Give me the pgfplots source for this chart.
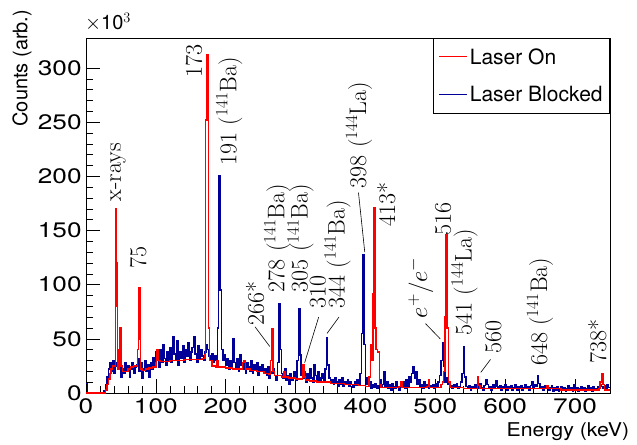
\documentclass[border=0pt]{standalone}
\usepackage{fontspec}
\setsansfont{TeX Gyre Heros}
\usepackage{pgfplots}
\pgfplotsset{compat=1.18}

\definecolor{laseron}{rgb}{1,0,0}
\definecolor{laserblocked}{rgb}{0,0,0.6}

\tikzset{ann/.style={rotate=90, anchor=west, inner sep=1bp,
  font=\fontsize{24bp}{24bp}\selectfont}}

\begin{document}
\begin{tikzpicture}
\begin{axis}[
  scale only axis,
  width=524bp, height=355bp,
  xmin=0, xmax=750, ymin=0, ymax=327.7,
  xtick={0,100,...,700}, ytick={0,50,...,300},
  minor x tick num=4, minor y tick num=4,
  tick align=inside, tick pos=left,
  major tick length=14bp, minor tick length=7bp,
  tick style={black, line width=0.6bp},
  axis line style={black, line width=0.8bp},
  /pgf/number format/assume math mode=true,
  tick label style={font=\fontsize{21bp}{21bp}\sffamily, xscale=1.25},
  xticklabel style={yshift=-2bp},
  yticklabel style={xshift=0bp},
  reverse legend,
  legend style={at={(1,1)}, anchor=north east, draw=black, line width=0.8bp,
    font=\fontsize{21bp}{21bp}\sffamily, cells={anchor=west},
    row sep=17bp, inner xsep=5bp, inner ysep=8bp},
  legend image code/.code={\draw[#1, line width=1bp] (0bp,0bp) -- (28bp,0bp);},
  clip mode=individual,
]
% Laser Blocked
\addplot[const plot, laserblocked, line width=1.5bp] coordinates {
(0,9)(2,0)(24,0)(26,2)(28,8)(30,15)(32,22)(34,28)(36,20)(38,30)
(40,18)(42,25)(44,28)(46,37)(48,30)(50,15)(52,22)(54,18)(56,28)(58,20)
(60,25)(62,15)(64,22)(66,28)(68,18)(70,24)(72,26)(74,32)(76,20)(78,28)
(80,14)(82,22)(84,30)(86,20)(88,26)(90,15)(92,28)(94,22)(96,33)(98,26)
(100,38)(102,30)(104,24)(106,40)(108,28)(110,45)(112,32)(114,26)(116,38)(118,30)
(120,42)(122,28)(124,52)(126,36)(128,30)(130,48)(132,26)(134,38)(136,32)(138,44)
(140,28)(142,40)(144,34)(146,46)(148,30)(150,38)(152,42)(154,52)(156,36)(158,28)
(160,44)(162,32)(164,40)(166,34)(168,30)(170,38)(172,45)(174,40)(176,34)(178,30)
(180,36)(182,28)(184,34)(186,30)(188,60)(190,201)(192,95)(194,40)(196,30)(198,35)
(200,26)(202,32)(204,22)(206,30)(208,25)(210,50)(212,28)(214,24)(216,32)(218,20)
(220,35)(222,26)(224,22)(226,30)(228,18)(230,28)(232,24)(234,20)(236,30)(238,18)
(240,26)(242,22)(244,28)(246,16)(248,24)(250,20)(252,26)(254,18)(256,22)(258,16)
(260,24)(262,14)(264,20)(266,18)(268,22)(270,16)(272,12)(274,28)(276,82)(278,40)
(280,18)(282,14)(284,22)(286,12)(288,16)(290,8)(292,18)(294,12)(296,14)(298,20)
(300,12)(302,30)(304,78)(306,35)(308,16)(310,14)(312,20)(314,10)(316,18)(318,12)
(320,22)(322,14)(324,10)(326,26)(328,16)(330,12)(332,20)(334,10)(336,14)(338,18)
(340,12)(342,22)(344,51)(346,26)(348,14)(350,10)(352,12)(354,8)(356,14)(358,10)
(360,6)(362,12)(364,8)(366,14)(368,6)(370,10)(372,8)(374,12)(376,6)(378,10)
(380,8)(382,5)(384,10)(386,7)(388,12)(390,8)(392,18)(394,55)(396,128)(398,45)
(400,14)(402,8)(404,6)(406,10)(408,4)(410,8)(412,5)(414,9)(416,4)(418,7)
(420,12)(422,5)(424,8)(426,20)(428,6)(430,10)(432,4)(434,8)(436,3)(438,9)
(440,6)(442,4)(444,10)(446,6)(448,3)(450,8)(452,5)(454,10)(456,4)(458,12)
(460,6)(462,15)(464,10)(466,18)(468,24)(470,14)(472,20)(474,8)(476,12)(478,5)
(480,8)(482,4)(484,10)(486,6)(488,8)(490,4)(492,7)(494,5)(496,8)(498,4)
(500,9)(502,6)(504,10)(506,16)(508,30)(510,46)(512,25)(514,10)(516,14)(518,8)
(520,5)(522,7)(524,4)(526,8)(528,5)(530,9)(532,4)(534,6)(536,10)(538,18)
(540,43)(542,15)(544,6)(546,4)(548,7)(550,3)(552,6)(554,4)(556,8)(558,5)
(560,7)(562,4)(564,9)(566,5)(568,3)(570,7)(572,12)(574,8)(576,4)(578,6)
(580,3)(582,8)(584,5)(586,11)(588,6)(590,4)(592,7)(594,3)(596,6)(598,4)
(600,8)(602,3)(604,6)(606,4)(608,7)(610,3)(612,5)(614,8)(616,3)(618,6)
(620,4)(622,7)(624,3)(626,5)(628,8)(630,4)(632,6)(634,3)(636,7)(638,10)
(640,5)(642,8)(644,6)(646,16)(648,9)(650,4)(652,6)(654,3)(656,7)(658,4)
(660,6)(662,3)(664,5)(666,7)(668,2)(670,5)(672,3)(674,6)(676,2)(678,4)
(680,6)(682,3)(684,5)(686,2)(688,4)(690,7)(692,3)(694,5)(696,2)(698,8)
(700,3)(702,5)(704,2)(706,4)(708,6)(710,3)(712,5)(714,2)(716,4)(718,7)
(720,3)(722,5)(724,2)(726,6)(728,3)(730,4)(732,6)(734,5)(736,8)(738,6)
(740,4)(742,7)(744,3)(746,8)(748,5)(750,5)
};
\addlegendentry{Laser Blocked}
% Laser On
\addplot[const plot, laseron, line width=1.5bp] coordinates {
(0,0)(26,0)(28,3)(30,8)(32,13)(34,18)(36,22)(38,25)(42,80)(43,170)
(44,120)(45,40)(46,22)(48,60)(50,25)(52,20)(56,20)(60,22)(64,24)(68,25)
(72,25)(74,40)(75,97)(77,50)(78,22)(80,21)(85,22)(90,23)(95,24)(100,28)
(101,40)(103,30)(106,29)(110,29)(120,30)(130,30)(140,31)(150,31)(160,31)(166,32)
(170,35)(171,252)(173,312)(175,60)(177,30)(180,25)(185,24)(187,30)(189,24)(195,24)
(200,23)(210,22)(220,22)(224,28)(226,30)(228,22)(235,21)(245,20)(255,18)(262,17)
(264,30)(266,59)(268,20)(270,16)(280,15)(283,20)(285,15)(290,14)(300,13)(308,13)
(310,26)(312,15)(314,12)(320,11)(330,10)(340,10)(350,9)(360,9)(370,8)(380,8)
(390,7)(400,6)(404,6)(405,15)(407,45)(409,30)(411,92)(412,171)(414,60)(415,40)
(417,38)(420,8)(422,5)(430,5)(440,5)(448,6)(450,10)(452,5)(460,5)(470,5)
(480,5)(488,6)(490,12)(492,5)(500,5)(506,5)(508,8)(510,10)(512,20)(514,70)
(515,146)(517,60)(519,10)(521,5)(530,5)(540,4)(550,4)(558,4)(560,15)(562,7)
(564,4)(580,4)(600,4)(620,4)(640,4)(658,4)(660,7)(662,4)(680,3)(700,3)
(720,3)(734,4)(736,10)(738,18)(740,8)(742,3)(750,3)
};
\addlegendentry{Laser On}

% peak labels
\node[ann] at (axis cs:45.8,176) {x-rays};
\node[ann] at (axis cs:74.6,114) {75};
\node[ann] at (axis cs:154.6,290) {173};
\node[ann] at (axis cs:205,209) {191 ($^{141}$Ba)};
\node[ann] at (axis cs:242,61) {266*};
\node[ann] at (axis cs:274,92) {278 ($^{141}$Ba)};
\node[ann] at (axis cs:307,92) {305 ($^{141}$Ba)};
\node[ann] at (axis cs:332,77) {310};
\node[ann] at (axis cs:360,77) {344 ($^{141}$Ba)};
\node[ann] at (axis cs:391,188) {398 ($^{144}$La)};
\node[ann] at (axis cs:430,153) {413*};
\node[ann] at (axis cs:479,68) {$e^{+}/e^{-}$};
\node[ann] at (axis cs:511,144) {516};
\node[ann] at (axis cs:542,52) {541 ($^{144}$La)};
\node[ann] at (axis cs:583,35) {560};
\node[ann] at (axis cs:650,24) {648 ($^{141}$Ba)};
\node[ann] at (axis cs:732,26) {738*};
\draw[black, line width=0.6bp] (axis cs:263,43) -- (axis cs:242,61);
\draw[black, line width=0.6bp] (axis cs:313,28) -- (axis cs:333,70);
\draw[black, line width=0.6bp] (axis cs:345,55) -- (axis cs:362,70);
\draw[black, line width=0.6bp] (axis cs:399,130) -- (axis cs:390,185);
\draw[black, line width=0.6bp] (axis cs:507,50) -- (axis cs:486,64);
\draw[black, line width=0.6bp] (axis cs:565,19) -- (axis cs:579,31);

% axis titles
\node[rotate=90, anchor=center, font=\fontsize{20bp}{20bp}\sffamily]
  at (axis description cs:-0.122,0.915) {Counts (arb.)};
\node[anchor=east, font=\fontsize{19bp}{19bp}\sffamily, xscale=1.12]
  at (axis description cs:1.044,-0.110) {Energy (keV)};
\node[anchor=center, font=\fontsize{20bp}{20bp}\sffamily]
  at (axis description cs:0.042,1.045) {$\times$10$^{3}$};
\end{axis}
\pgfresetboundingbox
\path (-86bp,-52bp) rectangle (551bp,393bp);
\end{tikzpicture}
\end{document}
